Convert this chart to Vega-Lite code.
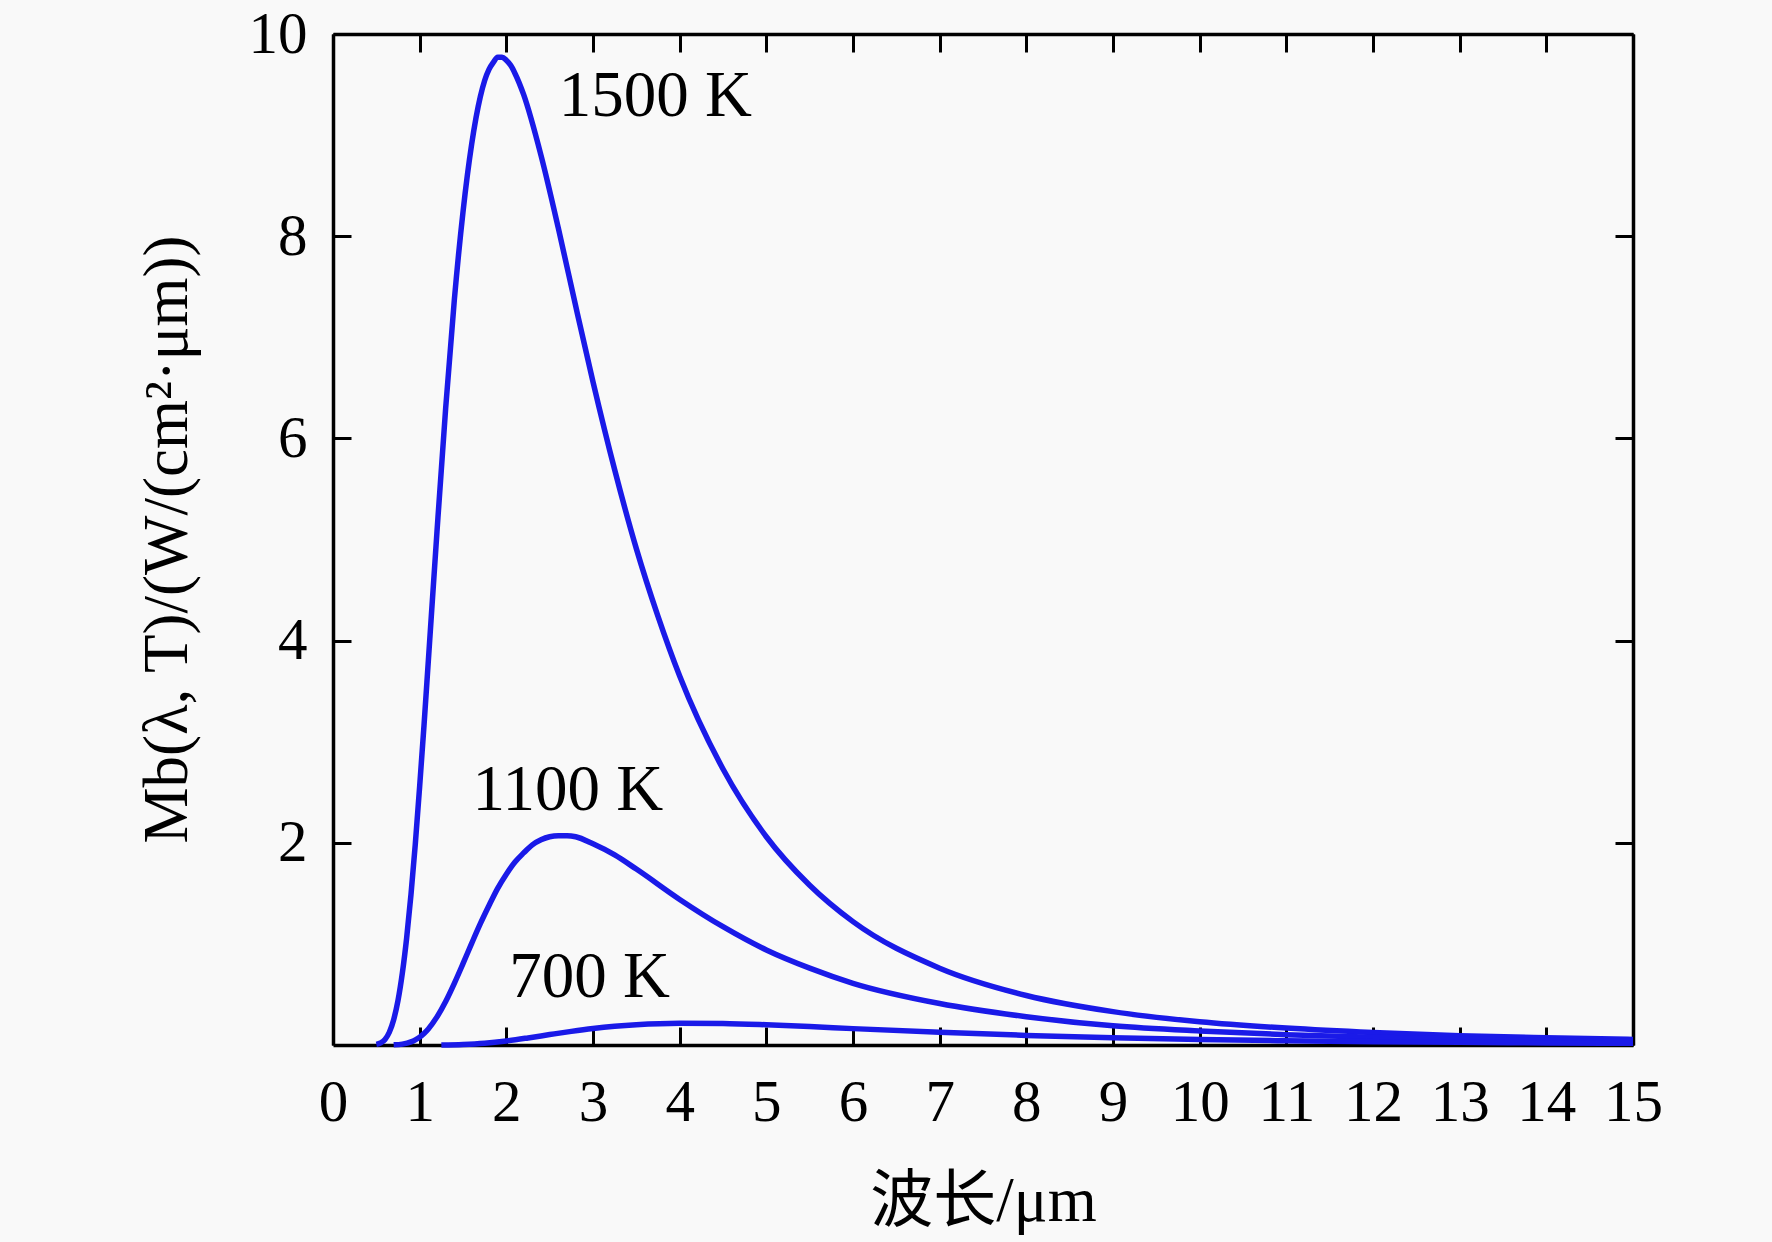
{
  "$schema": "https://vega.github.io/schema/vega-lite/v6.json",
  "width": 1300,
  "height": 1011,
  "autosize": {"type": "none"},
  "padding": {"left": 333, "top": 34, "right": 139, "bottom": 197},
  "background": "#f9f9f9",
  "config": {
    "view": {"stroke": null},
    "font": "Liberation Serif",
    "axis": {
      "domainColor": "#000000",
      "domainWidth": 3.5,
      "tickColor": "#000000",
      "tickWidth": 3,
      "tickSize": -18,
      "grid": false,
      "labelFont": "Liberation Serif",
      "labelFontSize": 59,
      "labelColor": "#000000",
      "titleFont": "Liberation Serif, Noto Sans CJK SC",
      "titleFontSize": 63,
      "titleFontWeight": "normal",
      "titleColor": "#000000"
    }
  },
  "datasets": {
    "curves": [
      {"T": "1500 K", "wavelength": 0.5, "value": 0.006},
      {"T": "1500 K", "wavelength": 0.55, "value": 0.02},
      {"T": "1500 K", "wavelength": 0.6, "value": 0.055},
      {"T": "1500 K", "wavelength": 0.65, "value": 0.126},
      {"T": "1500 K", "wavelength": 0.7, "value": 0.25},
      {"T": "1500 K", "wavelength": 0.75, "value": 0.44},
      {"T": "1500 K", "wavelength": 0.8, "value": 0.71},
      {"T": "1500 K", "wavelength": 0.85, "value": 1.06},
      {"T": "1500 K", "wavelength": 0.9, "value": 1.49},
      {"T": "1500 K", "wavelength": 0.95, "value": 1.99},
      {"T": "1500 K", "wavelength": 1.0, "value": 2.56},
      {"T": "1500 K", "wavelength": 1.05, "value": 3.16},
      {"T": "1500 K", "wavelength": 1.1, "value": 3.8},
      {"T": "1500 K", "wavelength": 1.2, "value": 5.08},
      {"T": "1500 K", "wavelength": 1.3, "value": 6.3},
      {"T": "1500 K", "wavelength": 1.4, "value": 7.37},
      {"T": "1500 K", "wavelength": 1.5, "value": 8.24},
      {"T": "1500 K", "wavelength": 1.6, "value": 8.91},
      {"T": "1500 K", "wavelength": 1.7, "value": 9.38},
      {"T": "1500 K", "wavelength": 1.75, "value": 9.54},
      {"T": "1500 K", "wavelength": 1.8, "value": 9.65},
      {"T": "1500 K", "wavelength": 1.85, "value": 9.72},
      {"T": "1500 K", "wavelength": 1.9, "value": 9.77},
      {"T": "1500 K", "wavelength": 1.95, "value": 9.77},
      {"T": "1500 K", "wavelength": 2.0, "value": 9.74},
      {"T": "1500 K", "wavelength": 2.05, "value": 9.69},
      {"T": "1500 K", "wavelength": 2.1, "value": 9.61},
      {"T": "1500 K", "wavelength": 2.2, "value": 9.4},
      {"T": "1500 K", "wavelength": 2.4, "value": 8.8},
      {"T": "1500 K", "wavelength": 2.6, "value": 8.08},
      {"T": "1500 K", "wavelength": 2.8, "value": 7.31},
      {"T": "1500 K", "wavelength": 3.0, "value": 6.56},
      {"T": "1500 K", "wavelength": 3.25, "value": 5.69},
      {"T": "1500 K", "wavelength": 3.5, "value": 4.91},
      {"T": "1500 K", "wavelength": 3.75, "value": 4.24},
      {"T": "1500 K", "wavelength": 4.0, "value": 3.65},
      {"T": "1500 K", "wavelength": 4.5, "value": 2.73},
      {"T": "1500 K", "wavelength": 5.0, "value": 2.06},
      {"T": "1500 K", "wavelength": 5.5, "value": 1.58},
      {"T": "1500 K", "wavelength": 6.0, "value": 1.22},
      {"T": "1500 K", "wavelength": 7.0, "value": 0.76},
      {"T": "1500 K", "wavelength": 8.0, "value": 0.49},
      {"T": "1500 K", "wavelength": 9.0, "value": 0.33},
      {"T": "1500 K", "wavelength": 10.0, "value": 0.23},
      {"T": "1500 K", "wavelength": 11.0, "value": 0.167},
      {"T": "1500 K", "wavelength": 12.0, "value": 0.123},
      {"T": "1500 K", "wavelength": 13.0, "value": 0.092},
      {"T": "1500 K", "wavelength": 14.0, "value": 0.071},
      {"T": "1500 K", "wavelength": 15.0, "value": 0.055},
      {"T": "1100 K", "wavelength": 0.7, "value": 0.002},
      {"T": "1100 K", "wavelength": 0.8, "value": 0.009},
      {"T": "1100 K", "wavelength": 0.9, "value": 0.031},
      {"T": "1100 K", "wavelength": 0.95, "value": 0.051},
      {"T": "1100 K", "wavelength": 1.0, "value": 0.078},
      {"T": "1100 K", "wavelength": 1.05, "value": 0.114},
      {"T": "1100 K", "wavelength": 1.1, "value": 0.159},
      {"T": "1100 K", "wavelength": 1.2, "value": 0.278},
      {"T": "1100 K", "wavelength": 1.3, "value": 0.43},
      {"T": "1100 K", "wavelength": 1.4, "value": 0.61},
      {"T": "1100 K", "wavelength": 1.5, "value": 0.805},
      {"T": "1100 K", "wavelength": 1.6, "value": 1.005},
      {"T": "1100 K", "wavelength": 1.7, "value": 1.2},
      {"T": "1100 K", "wavelength": 1.8, "value": 1.38},
      {"T": "1100 K", "wavelength": 1.9, "value": 1.55},
      {"T": "1100 K", "wavelength": 2.0, "value": 1.69},
      {"T": "1100 K", "wavelength": 2.1, "value": 1.81},
      {"T": "1100 K", "wavelength": 2.2, "value": 1.9},
      {"T": "1100 K", "wavelength": 2.3, "value": 1.98},
      {"T": "1100 K", "wavelength": 2.4, "value": 2.03},
      {"T": "1100 K", "wavelength": 2.5, "value": 2.06},
      {"T": "1100 K", "wavelength": 2.6, "value": 2.07},
      {"T": "1100 K", "wavelength": 2.7, "value": 2.07},
      {"T": "1100 K", "wavelength": 2.8, "value": 2.06},
      {"T": "1100 K", "wavelength": 3.0, "value": 1.99},
      {"T": "1100 K", "wavelength": 3.25, "value": 1.88},
      {"T": "1100 K", "wavelength": 3.5, "value": 1.74},
      {"T": "1100 K", "wavelength": 4.0, "value": 1.44},
      {"T": "1100 K", "wavelength": 4.5, "value": 1.17},
      {"T": "1100 K", "wavelength": 5.0, "value": 0.94},
      {"T": "1100 K", "wavelength": 5.5, "value": 0.76},
      {"T": "1100 K", "wavelength": 6.0, "value": 0.61},
      {"T": "1100 K", "wavelength": 7.0, "value": 0.41},
      {"T": "1100 K", "wavelength": 8.0, "value": 0.28},
      {"T": "1100 K", "wavelength": 9.0, "value": 0.19},
      {"T": "1100 K", "wavelength": 10.0, "value": 0.139},
      {"T": "1100 K", "wavelength": 11.0, "value": 0.102},
      {"T": "1100 K", "wavelength": 12.0, "value": 0.076},
      {"T": "1100 K", "wavelength": 13.0, "value": 0.058},
      {"T": "1100 K", "wavelength": 14.0, "value": 0.045},
      {"T": "1100 K", "wavelength": 15.0, "value": 0.035},
      {"T": "700 K", "wavelength": 1.25, "value": 0.001},
      {"T": "700 K", "wavelength": 1.5, "value": 0.006},
      {"T": "700 K", "wavelength": 1.75, "value": 0.018},
      {"T": "700 K", "wavelength": 2.0, "value": 0.04},
      {"T": "700 K", "wavelength": 2.25, "value": 0.07},
      {"T": "700 K", "wavelength": 2.5, "value": 0.103},
      {"T": "700 K", "wavelength": 2.75, "value": 0.135},
      {"T": "700 K", "wavelength": 3.0, "value": 0.163},
      {"T": "700 K", "wavelength": 3.25, "value": 0.185},
      {"T": "700 K", "wavelength": 3.5, "value": 0.201},
      {"T": "700 K", "wavelength": 4.0, "value": 0.216},
      {"T": "700 K", "wavelength": 4.5, "value": 0.213},
      {"T": "700 K", "wavelength": 5.0, "value": 0.2},
      {"T": "700 K", "wavelength": 5.5, "value": 0.182},
      {"T": "700 K", "wavelength": 6.0, "value": 0.162},
      {"T": "700 K", "wavelength": 7.0, "value": 0.125},
      {"T": "700 K", "wavelength": 8.0, "value": 0.095},
      {"T": "700 K", "wavelength": 9.0, "value": 0.072},
      {"T": "700 K", "wavelength": 10.0, "value": 0.055},
      {"T": "700 K", "wavelength": 11.0, "value": 0.042},
      {"T": "700 K", "wavelength": 12.0, "value": 0.033},
      {"T": "700 K", "wavelength": 13.0, "value": 0.026},
      {"T": "700 K", "wavelength": 14.0, "value": 0.021},
      {"T": "700 K", "wavelength": 15.0, "value": 0.017}
    ],
    "labels": [
      {"label": "1500 K", "wavelength": 3.72, "value": 9.39},
      {"label": "1100 K", "wavelength": 2.71, "value": 2.52},
      {"label": "700 K", "wavelength": 2.96, "value": 0.67}
    ]
  },
  "layer": [
    {
      "data": {"name": "curves"},
      "mark": {"type": "line", "color": "#1a1ae8", "strokeWidth": 5.5, "interpolate": "monotone"},
      "encoding": {
        "x": {
          "field": "wavelength",
          "type": "quantitative",
          "scale": {"domain": [0, 15], "nice": false},
          "axis": {
            "orient": "bottom",
            "values": [0, 1, 2, 3, 4, 5, 6, 7, 8, 9, 10, 11, 12, 13, 14, 15],
            "format": "d",
            "labelPadding": 46,
            "labelFlush": false,
            "labelOverlap": false,
            "title": "波长/μm",
            "titleX": 650,
            "titleY": 156,
            "titleBaseline": "middle"
          }
        },
        "y": {
          "field": "value",
          "type": "quantitative",
          "scale": {"domain": [0, 10], "nice": false},
          "axis": {
            "orient": "left",
            "values": [2, 4, 6, 8, 10],
            "format": "d",
            "labelPadding": 44,
            "labelFlush": false,
            "labelOverlap": false,
            "title": "Mb(λ, T)/(W/(cm²·μm))",
            "titleAngle": -90,
            "titleX": -166,
            "titleY": 505,
            "titleAlign": "center",
            "titleBaseline": "middle"
          }
        },
        "detail": {"field": "T", "type": "nominal"}
      }
    },
    {
      "data": {"name": "labels"},
      "mark": {"type": "text", "font": "Liberation Serif", "fontSize": 65, "color": "#000000", "align": "center", "baseline": "middle"},
      "encoding": {
        "x": {"field": "wavelength", "type": "quantitative", "axis": null},
        "y": {"field": "value", "type": "quantitative", "axis": null},
        "text": {"field": "label", "type": "nominal"}
      }
    },
    {
      "data": {"name": "curves"},
      "mark": {"type": "line", "opacity": 0},
      "encoding": {
        "x": {
          "field": "wavelength",
          "type": "quantitative",
          "axis": {"orient": "top", "values": [0, 1, 2, 3, 4, 5, 6, 7, 8, 9, 10, 11, 12, 13, 14, 15], "labels": false, "title": null}
        },
        "y": {
          "field": "value",
          "type": "quantitative",
          "axis": {"orient": "right", "values": [0, 2, 4, 6, 8, 10], "labels": false, "title": null}
        },
        "detail": {"field": "T", "type": "nominal"}
      }
    }
  ],
  "resolve": {"axis": {"x": "independent", "y": "independent"}}
}
